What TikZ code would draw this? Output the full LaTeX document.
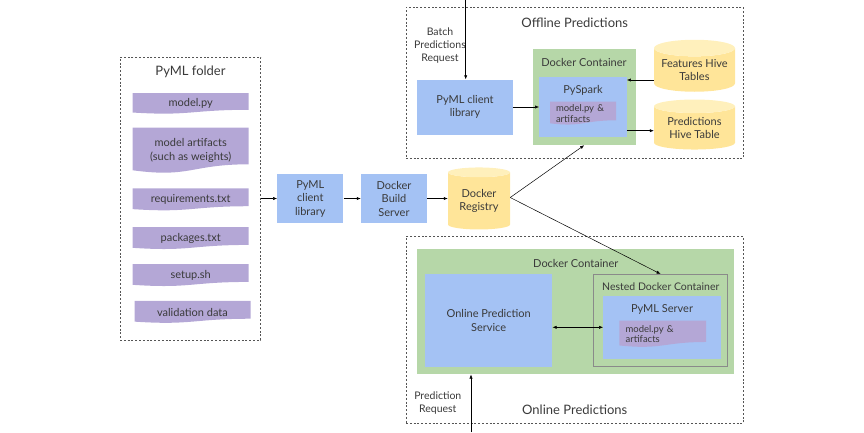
\documentclass[tikz,border=0pt]{standalone}
\usepackage{fontspec}
\setmainfont{Lato}
\usetikzlibrary{shapes.geometric,calc,arrows.meta}
\definecolor{bluec}{HTML}{A4C2F4}
\definecolor{greenc}{HTML}{B6D7A8}
\definecolor{purplec}{HTML}{B4A7D6}
\definecolor{yellowc}{HTML}{FFE599}
\definecolor{yellowtop}{HTML}{FFF0BC}
\definecolor{txt}{HTML}{3A3A3A}
\definecolor{dashc}{HTML}{555555}
\definecolor{nestc}{HTML}{8A8A8A}

\begin{document}
\begin{tikzpicture}[x=1pt,y=1pt]
\tikzstyle{every node}+=[inner sep=0pt, text=txt, align=center, font=\fontsize{11}{13.5}\selectfont]
\tikzstyle{group}=[draw=dashc, dash pattern=on 2pt off 1.8pt, line width=0.6pt]
\tikzstyle{box}=[fill=bluec]
\tikzstyle{dock}=[fill=greenc]
\tikzstyle{doc}=[path picture={
  \fill[purplec] let \p1=(path picture bounding box.south west), \p2=(path picture bounding box.north east)
    in (\x1,\y2) -- (\x2,\y2) -- (\x2,{\y1+0.2*(\y2-\y1)})
    .. controls ({0.5*(\x1+\x2)},{\y1+0.2*(\y2-\y1)}) and ({0.5*(\x1+\x2)},{\y1-0.1*(\y2-\y1)})
    .. (\x1,{\y1+0.07*(\y2-\y1)}) -- cycle;}]
\tikzstyle{dbase}=[cylinder, shape border rotate=90, aspect=0.25, cylinder uses custom fill,
  cylinder body fill=yellowc, cylinder end fill=yellowtop]
\tikzstyle{arr}=[-{Latex[length=4pt,width=3.2pt]}, line width=0.5pt]
\tikzstyle{arrs}=[{Latex[length=4pt,width=3.2pt]}-{Latex[length=4pt,width=3.2pt]}, line width=0.5pt]
\tikzstyle{small}=[font=\fontsize{9.5}{10.5}\selectfont, align=left]
\tikzstyle{label}=[font=\fontsize{10.5}{13}\selectfont]
\tikzstyle{title}=[font=\fontsize{13}{15}\selectfont]
\useasboundingbox (0,0) rectangle (864,-432);
\node[group, minimum width=140.7pt, minimum height=283pt] (folder) at (190.35,-198.5) {};
\node[title] (foldername) at (190.5,-71.5) {PyML folder};
\node[doc, minimum width=116pt, minimum height=21pt] (fmodel) at (190.7,-103.5) {model.py};
\node[doc, minimum width=116pt, minimum height=46pt] (fart) at (190.7,-150.5) {model artifacts\\(such as weights)};
\node[doc, minimum width=116pt, minimum height=22.4pt] (freq) at (190.7,-199.5) {requirements.txt};
\node[doc, minimum width=116pt, minimum height=22.4pt] (fpkg) at (190.7,-238.2) {packages.txt};
\node[doc, minimum width=116pt, minimum height=22.4pt] (fsetup) at (190.7,-275.2) {setup.sh};
\node[doc, minimum width=116pt, minimum height=22.4pt] (fvalid) at (192.5,-312) {validation data};
\node[box, minimum width=66pt, minimum height=49pt] (client1) at (310.3,-198.5) {PyML\\client\\library};
\node[box, minimum width=66pt, minimum height=49pt] (build) at (394,-198.5) {Docker\\Build\\Server};
\node[dbase, minimum width=62pt, minimum height=62pt] (registry) at (479,-201) {Docker\\Registry};
\node[group, minimum width=337.3pt, minimum height=151pt] (offline) at (574.65,-82.8) {};
\node[title] (offlinename) at (574.7,-22.3) {Offline Predictions};
\node[label] (batchname) at (440,-45.3) {Batch\\Predictions\\Request};
\node[box, minimum width=95.3pt, minimum height=55pt] (client2) at (465,-107) {PyML client\\library};
\node[dock, minimum width=103pt, minimum height=95.7pt] (offdock) at (584.2,-97.2) {};
\node (offdockname) at (584,-62.3) {Docker Container};
\node[box, minimum width=87.4pt, minimum height=60pt] (pyspark) at (583,-107.3) {};
\node (pysparkname) at (583,-90) {PySpark};
\node[doc, small, text width=54pt, minimum width=66pt, minimum height=23.3pt] (offart) at (583,-113.3) {model.py \&\\artifacts};
\node[dbase, minimum width=81pt, minimum height=52pt] (features) at (694.5,-70) {Features Hive\\Tables};
\node[dbase, minimum width=81pt, minimum height=50pt] (predictions) at (694.5,-128) {Predictions\\Hive Table};
\node[group, minimum width=337.3pt, minimum height=186.6pt] (online) at (574.65,-330) {};
\node[title] (onlinename) at (574.7,-410) {Online Predictions};
\node[label] (predname) at (437.8,-403) {Prediction\\Request};
\node[dock, minimum width=317.6pt, minimum height=125pt] (ondock) at (575.5,-311.8) {};
\node (ondockname) at (575.8,-263.3) {Docker Container};
\node[box, minimum width=127.3pt, minimum height=92.4pt] (service) at (488.65,-320.5) {Online Prediction\\Service};
\node[dock, draw=nestc, line width=0.8pt, minimum width=134.4pt, minimum height=92.4pt] (nested) at (660.5,-320.5) {};
\node[label] (nestedname) at (660.8,-286.7) {Nested Docker Container};
\node[box, minimum width=117.7pt, minimum height=63.3pt] (server) at (662.15,-327.35) {};
\node (servername) at (662,-309) {PyML Server};
\node[doc, small, text width=74pt, minimum width=86.7pt, minimum height=26.6pt] (onart) at (662.65,-334) {model.py \&\\artifacts};
\coordinate (batchin) at (465.7,0);
\coordinate (predin) at (471,-432);
\coordinate (regout) at ([yshift=3.5pt]registry.east);
\draw[arr] (folder.east) -- (client1.west);
\draw[arr] (client1.east) -- (build.west);
\draw[arr] (build.east) -- (build.east -| registry.west);
\draw[arr] (regout) -- (offdock.south);
\draw[arr] (regout) -- (nested.north);
\draw[arr] (batchin) -- (batchin |- client2.north);
\draw[arr] (client2.east) -- (client2.east -| pyspark.west);
\draw[arr] (features.west |- 0,-80) -- (pyspark.east |- 0,-80);
\draw[arr] (pyspark.east |- 0,-130.7) -- (predictions.west |- 0,-130.7);
\draw[arrs] (service.east |- 0,-327.3) -- (server.west |- 0,-327.3);
\draw[arr] (predin) -- (predin |- ondock.south);
\end{tikzpicture}
\end{document}
